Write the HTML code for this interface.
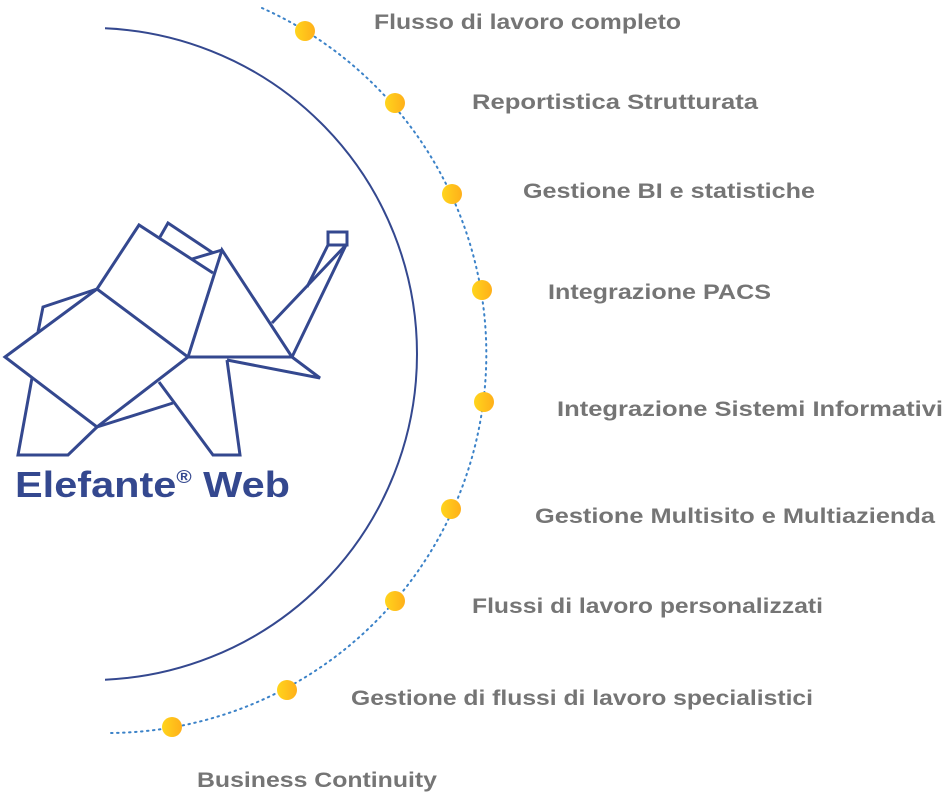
<!DOCTYPE html>
<html><head><meta charset="utf-8"><style>
html,body{margin:0;padding:0;background:#fff;width:950px;height:800px;overflow:hidden}
svg{display:block}
.l{font-family:"Liberation Sans",sans-serif;font-weight:bold;font-size:21px;fill:#757575}
</style></head><body>
<svg width="950" height="800" viewBox="0 0 950 800">
<defs>
<linearGradient id="g" x1="0" x2="1" y1="0" y2="0"><stop offset="0" stop-color="#ffd51c"/><stop offset="1" stop-color="#ffaf1a"/></linearGradient>
<clipPath id="c"><rect x="105" y="0" width="400" height="800"/></clipPath>
</defs>
<circle cx="91" cy="354" r="326" fill="none" stroke="#34488f" stroke-width="2" clip-path="url(#c)"/>
<path d="M262 8 A379 379 0 0 1 107 733" fill="none" stroke="#3b82c8" stroke-width="2" stroke-dasharray="1.5 4.5" stroke-linecap="round"/>
<g fill="url(#g)">
<circle cx="305" cy="31" r="10"/><circle cx="395" cy="103" r="10"/><circle cx="452" cy="194" r="10"/>
<circle cx="482" cy="290" r="10"/><circle cx="484" cy="402" r="10"/><circle cx="451" cy="509" r="10"/>
<circle cx="395" cy="601" r="10"/><circle cx="287" cy="690" r="10"/><circle cx="172" cy="727" r="10"/>
</g>
<g fill="none" stroke="#34488f" stroke-width="3" stroke-linejoin="miter">
<polyline points="160,237 168,223 213,253"/>
<polyline points="192,259 222,250"/>
<polyline points="97,289 139,225 213,273"/>
<polyline points="97,289 43,307 38,332"/>
<polygon points="5,357 97,289 188,357 97,427"/>
<polyline points="188,357 222,250 292,357 188,357"/>
<polyline points="292,357 346,245 272,323"/>
<rect x="328" y="232" width="19" height="13"/>
<polyline points="328,245 307,287"/>
<polyline points="292,357 320,378 227,360"/>
<polyline points="227,360 240,455 213,455 159,382"/>
<polyline points="97,427 173,403"/>
<polyline points="32,378 18,455 68,455 97,427"/>
</g>
<text x="15" y="497" font-family="Liberation Sans,sans-serif" font-weight="bold" font-size="36" fill="#34488f" textLength="275" lengthAdjust="spacingAndGlyphs">Elefante<tspan font-size="18" dy="-14">®</tspan><tspan dy="14"> Web</tspan></text>
<text class="l" x="374" y="29" textLength="307" lengthAdjust="spacingAndGlyphs">Flusso di lavoro completo</text>
<text class="l" x="472" y="109" textLength="286" lengthAdjust="spacingAndGlyphs">Reportistica Strutturata</text>
<text class="l" x="523" y="198" textLength="292" lengthAdjust="spacingAndGlyphs">Gestione BI e statistiche</text>
<text class="l" x="548" y="299" textLength="223" lengthAdjust="spacingAndGlyphs">Integrazione PACS</text>
<text class="l" x="557" y="416" textLength="386" lengthAdjust="spacingAndGlyphs">Integrazione Sistemi Informativi</text>
<text class="l" x="535" y="523" textLength="400" lengthAdjust="spacingAndGlyphs">Gestione Multisito e Multiazienda</text>
<text class="l" x="472" y="613" textLength="351" lengthAdjust="spacingAndGlyphs">Flussi di lavoro personalizzati</text>
<text class="l" x="351" y="705" textLength="462" lengthAdjust="spacingAndGlyphs">Gestione di flussi di lavoro specialistici</text>
<text class="l" x="197" y="787" textLength="240" lengthAdjust="spacingAndGlyphs">Business Continuity</text>
</svg>
</body></html>
